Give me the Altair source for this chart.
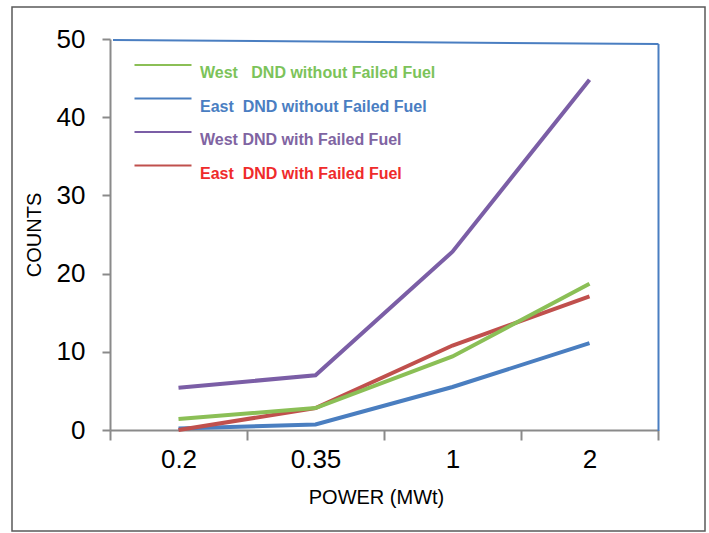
import altair as alt
import pandas as pd

# ---- data ----
power = ["0.2", "0.35", "1", "2"]
west_without = [1.4, 2.8, 9.4, 18.7]
east_without = [0.2, 0.7, 5.5, 11.1]
west_with = [5.4, 7.0, 22.8, 44.8]
east_with = [0.0, 2.8, 10.8, 17.1]
y_ticks = [0, 10, 20, 30, 40, 50]

NB = "\u00a0"
series_names = [
    f"West{NB}{NB}{NB}DND without Failed Fuel",
    f"East{NB}{NB}DND without Failed Fuel",
    "West DND with Failed Fuel",
    f"East{NB}{NB}DND with Failed Fuel",
]
series_values = [west_without, east_without, west_with, east_with]
line_colors = ["#8BBF56", "#4A7EC0", "#7B5EA6", "#C0504D"]
text_colors = ["#7CC35A", "#4A7EC2", "#8064A2", "#EF2B2B"]
draw_order = [1, 3, 0, 2]  # blue, red, green, purple (purple on top)

rows = []
for name, vals in zip(series_names, series_values):
    for p, v in zip(power, vals):
        rows.append({"power": p, "counts": v, "series": name})
df = pd.DataFrame(rows)

FONT = "Liberation Sans"
AX = "#8a8a8a"

label_fill = " : ".join(
    f"datum.value === '{n}' ? '{c}'" for n, c in zip(series_names[:-1], text_colors[:-1])
) + f" : '{text_colors[-1]}'"

x_enc = alt.X(
    "power:N",
    sort=power,
    bandPosition=0.5,
    scale=alt.Scale(type="band", domain=power, paddingInner=0, paddingOuter=0),
    axis=alt.Axis(
        title="POWER (MWt)", tickBand="extent", labelAngle=0,
        domainColor=AX, domainWidth=2, tickColor=AX, tickWidth=2, tickSize=10,
        labelFont=FONT, labelFontSize=26, labelColor="black", labelPadding=6,
        titleFont=FONT, titleFontSize=20, titleFontWeight="normal", titleColor="black",
        titlePadding=15, titleX=266, grid=False,
    ),
)
y_enc = alt.Y(
    "counts:Q",
    scale=alt.Scale(domain=[0, 50], nice=False, zero=True),
    axis=alt.Axis(
        title="COUNTS", values=y_ticks, grid=False,
        domainColor=AX, domainWidth=2, tickColor=AX, tickWidth=2, tickSize=8,
        labelFont=FONT, labelFontSize=26, labelColor="black", labelPadding=17,
        titleFont=FONT, titleFontSize=20, titleFontWeight="normal", titleColor="black",
        titlePadding=12,
    ),
)
color_enc = alt.Color(
    "series:N",
    scale=alt.Scale(domain=series_names, range=line_colors),
    legend=alt.Legend(
        title=None, orient="none", legendX=45, legendY=18,
        symbolType="M-5,0H5", symbolSize=130, symbolStrokeWidth=2,
        labelFont=FONT, labelFontWeight="bold", labelFontSize=16, labelLimit=0,
        labelOffset=29, rowPadding=9.5, padding=0, labelBaseline="top",
        labelColor=alt.ExprRef(expr=label_fill),
    ),
)

one = alt.Data(values=[{}])
frame = alt.Chart(one).mark_rect(fill="transparent", stroke="#5a5a5a", strokeWidth=1.5).encode(
    x=alt.value(-98), x2=alt.value(595), y=alt.value(-32), y2=alt.value(492)
)
blue_top = alt.Chart(one).mark_rule(color="#4A7EC1", strokeWidth=2).encode(
    x=alt.value(3), x2=alt.value(548.5), y=alt.value(1), y2=alt.value(5)
)
blue_right = alt.Chart(one).mark_rule(color="#4A7EC1", strokeWidth=2).encode(
    x=alt.value(548.5), x2=alt.value(548.5), y=alt.value(5), y2=alt.value(392)
)

lines = [
    alt.Chart(df).transform_filter(alt.datum.series == series_names[i])
    .mark_line(strokeWidth=4)
    .encode(x=x_enc, y=y_enc, color=color_enc)
    for i in draw_order
]

chart = alt.layer(frame, blue_top, blue_right, *lines).properties(
    width=548, height=391,
    autosize=alt.AutoSizeParams(type="none"),
    padding={"left": 110, "top": 39, "right": 51, "bottom": 103},
).configure_view(stroke=None)

chart.save("out.html", embed_options={"renderer": "svg", "actions": False})
